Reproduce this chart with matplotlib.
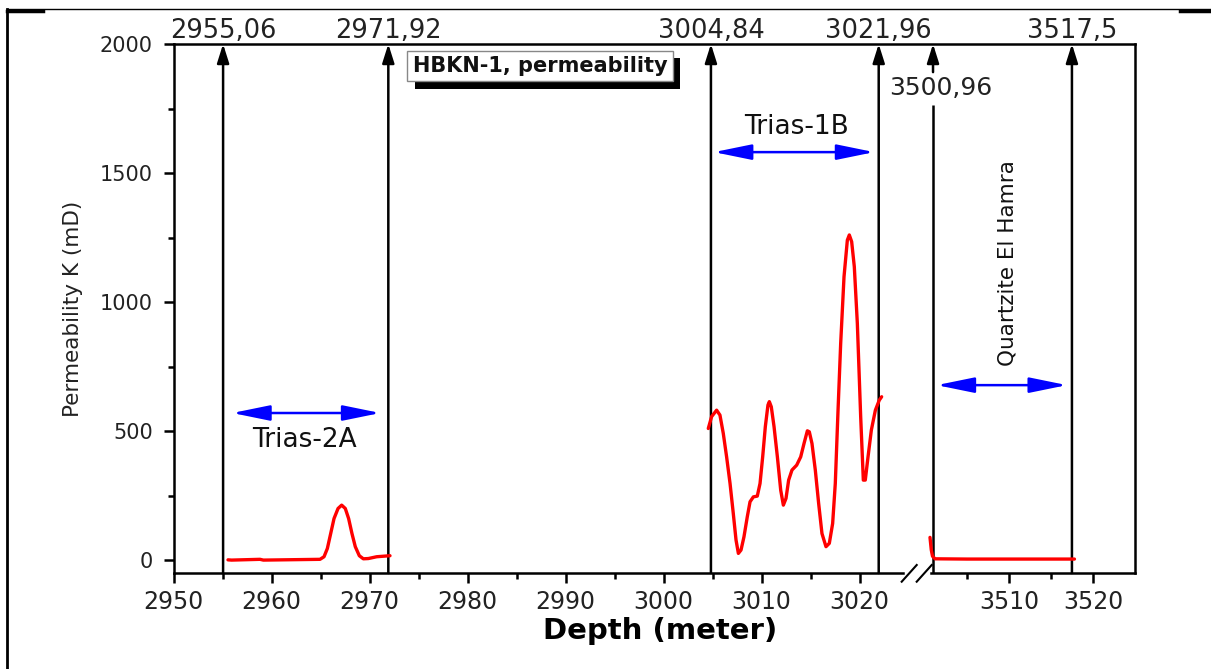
import numpy as np
import matplotlib
matplotlib.use("Agg")
import matplotlib.pyplot as plt
import matplotlib.patheffects as pe
from matplotlib.lines import Line2D

# ---------------- data ----------------
depth_2a = [2955.56, 2955.93, 2958.83, 2959.17, 2964.95, 2965.36, 2965.70, 2966.04,
            2966.38, 2966.79, 2967.16, 2967.53, 2967.87, 2968.21, 2968.55, 2968.96,
            2969.37, 2969.88, 2970.73, 2972.09]
perm_2a = [1, 0, 3, 0, 3, 13, 45, 103, 161, 200, 213, 200, 161, 103, 52, 17, 5, 6, 13, 17]

depth_1b = [3004.57, 3004.91, 3005.42, 3005.76, 3006.10, 3006.44, 3006.79, 3007.12,
            3007.40, 3007.64, 3007.91, 3008.21, 3008.55, 3008.83, 3009.17, 3009.57,
            3009.85, 3010.12, 3010.39, 3010.66, 3010.80, 3011.00, 3011.28, 3011.62,
            3011.96, 3012.23, 3012.50, 3012.77, 3013.11, 3013.59, 3014.00, 3014.34,
            3014.68, 3014.88, 3015.15, 3015.49, 3015.83, 3016.17, 3016.58, 3016.92,
            3017.26, 3017.53, 3017.81, 3018.08, 3018.42, 3018.76, 3018.96, 3019.20,
            3019.47, 3019.78, 3020.12, 3020.39, 3020.59, 3020.87, 3021.21, 3021.62,
            3022.02, 3022.26]
perm_1b = [510, 556, 581, 562, 491, 400, 297, 181,
           78, 26, 39, 90, 168, 226, 245, 248,
           297, 400, 517, 601, 614, 594, 517, 400,
           271, 213, 239, 310, 349, 368, 400, 452,
           501, 497, 452, 349, 220, 103, 52, 65,
           142, 297, 581, 840, 1098, 1240, 1260, 1234,
           1137, 917, 556, 310, 310, 400, 504, 581,
           620, 633]

depth_qh = [3500.6, 3500.75, 3500.9, 3501.2, 3505.0, 3510.0, 3517.8]
perm_qh = [88, 40, 15, 5, 4, 4, 4]

marker_depths = [2955.06, 2971.92, 3004.84, 3021.96, 3517.5]
marker_labels = ["2955,06", "2971,92", "3004,84", "3021,96", "3517,5"]
inner_marker_depth = 3500.96
inner_marker_label = "3500,96"

formation_names = ["Trias-2A", "Trias-1B", "Quartzite El Hamra"]
formation_spans = [(2956.0, 2971.1), (3005.15, 3021.5), (3501.4, 3516.9)]
formation_arrow_y = [570, 1581, 678]

x_major = [2950, 2960, 2970, 2980, 2990, 3000, 3010, 3020, 3510, 3520]
x_minor = [2955, 2965, 2975, 2985, 2995, 3005, 3015, 3505, 3515]
y_major = [0, 500, 1000, 1500, 2000]
y_minor = [250, 750, 1250, 1750]

# broken-axis scale (depth -> screen position)
brk_depth = [2950.0, 3024.5, 3500.6, 3524.95]
brk_pos = [0.0, 730.1, 756.5, 961.0]

def fwd(d):
    return np.interp(d, brk_depth, brk_pos)

def inv(v):
    return np.interp(v, brk_pos, brk_depth)

# ---------------- figure ----------------
W, H = 1211, 669
fig = plt.figure(figsize=(W / 100, H / 100), dpi=100)
plt.rcParams['font.family'] = ['DejaVu Sans']

ax_l, ax_r, ax_t, ax_b = 173.5, 1134.5, 44, 573
ax = fig.add_axes([ax_l / W, 1 - ax_b / H, (ax_r - ax_l) / W, (ax_b - ax_t) / H])
ax.set_xscale('function', functions=(fwd, inv))
ax.set_xlim(2950, 3524.95)
ax.set_ylim(-50, 2000)

SPW = 1.8
for s in ['left', 'right', 'top']:
    ax.spines[s].set_linewidth(SPW)
ax.spines['bottom'].set_visible(False)
# bottom spine with break
gx0 = (903 - ax_l) / (ax_r - ax_l)
gx1 = (931 - ax_l) / (ax_r - ax_l)
for a, b in [(0, gx0), (gx1, 1)]:
    ax.add_line(Line2D([a, b], [0, 0], transform=ax.transAxes, color='k',
                       lw=SPW, clip_on=False, solid_capstyle='projecting'))
def axfrac(px, py):
    return (px - ax_l) / (ax_r - ax_l), (ax_b - py) / (ax_b - ax_t)
for (p0, p1) in [((901.7, 581.7), (916.7, 565)), ((916.7, 581.7), (931.7, 565))]:
    a0 = axfrac(*p0); a1 = axfrac(*p1)
    ax.add_line(Line2D([a0[0], a1[0]], [a0[1], a1[1]], transform=ax.transAxes,
                       color='k', lw=1.5, clip_on=False))

ax.set_xticks(x_major)
ax.set_xticklabels([str(v) for v in x_major])
ax.set_xticks(x_minor, minor=True)
ax.set_yticks(y_major)
ax.set_yticklabels([str(v) for v in y_major])
ax.set_yticks(y_minor, minor=True)
ax.tick_params(axis='both', which='major', direction='out', length=7, width=SPW)
ax.tick_params(axis='both', which='minor', direction='out', length=4, width=SPW)
ax.tick_params(axis='x', which='major', labelsize=17, pad=5, labelcolor='#222222')
ax.tick_params(axis='y', which='major', labelsize=15, pad=8, labelcolor='#222222')
ax.tick_params(top=False, right=False, which='both')

ax.set_ylabel("Permeability K (mD)", fontsize=15.5, color='#222222')
ax.yaxis.set_label_coords((83 - ax_l) / (ax_r - ax_l), 0.5)
ax.set_xlabel("Depth (meter)", fontsize=21, fontweight='bold')
ax.xaxis.set_label_coords((660 - ax_l) / (ax_r - ax_l), (ax_b - 617) / (ax_b - ax_t))

# red permeability curves
for d, p in [(depth_2a, perm_2a), (depth_1b, perm_1b), (depth_qh, perm_qh)]:
    ax.plot(d, p, color='#ff0000', lw=2.4, solid_joinstyle='round',
            solid_capstyle='round', zorder=4)

# vertical marker arrows
arrow_style = '-|>,head_length=0.95,head_width=0.3'
for x, lab in zip(marker_depths, marker_labels):
    ax.annotate('', xy=(x, 2000), xytext=(x, -50),
                arrowprops=dict(arrowstyle=arrow_style, mutation_scale=12, color='k',
                                lw=1.8, shrinkA=0, shrinkB=0), annotation_clip=False)
    ax.annotate(lab, xy=(x, 2000), xytext=(0, 4), textcoords='offset points',
                ha='center', va='baseline', fontsize=18.5, color='#222222',
                annotation_clip=False)
# inner marker (broken for its label)
ax.plot([inner_marker_depth, inner_marker_depth], [-50, 1764], color='k', lw=1.8,
        solid_capstyle='butt', clip_on=False)
ax.annotate('', xy=(inner_marker_depth, 2000), xytext=(inner_marker_depth, 1891),
            arrowprops=dict(arrowstyle=arrow_style, mutation_scale=12, color='k',
                            lw=1.8, shrinkA=0, shrinkB=0), annotation_clip=False)
ax.text(3501.9, 1829, inner_marker_label, ha='center', va='center', fontsize=18,
        color='#222222')

# formation double arrows and names
for (x1, x2), y in zip(formation_spans, formation_arrow_y):
    ax.annotate('', xy=(x2, y), xytext=(x1, y),
                arrowprops=dict(arrowstyle='<|-|>,head_length=2.3,head_width=0.47',
                                mutation_scale=10, color='#0000ff', lw=1.8,
                                shrinkA=0, shrinkB=0))
ax.text(2963.4, 465, formation_names[0], ha='center', va='center', fontsize=19, color='#111111')
ax.text(3013.6, 1678, formation_names[1], ha='center', va='center', fontsize=19, color='#111111')
ax.text(3509.8, 1151, formation_names[2], ha='center', va='center', fontsize=15.5,
        rotation=90, color='#111111')

# title box with shadow
t = ax.text(2987.4, 1915, "HBKN-1, permeability", ha='center', va='center',
            fontsize=15, fontweight='bold', color='#111111', zorder=6,
            bbox=dict(boxstyle='square,pad=0.25', fc='white', ec='#888888', lw=1))
t.get_bbox_patch().set_path_effects([
    pe.SimplePatchShadow(offset=(5.5, -5.5), shadow_rgbFace='k', alpha=1.0),
    pe.Normal()])

# page/table border lines
ty = 1 - 9 / H
fig.add_artist(Line2D([7 / W, 1], [ty, ty], color='k', lw=1.0))
fig.add_artist(Line2D([7 / W, 43 / W], [1 - 10.5 / H] * 2, color='k', lw=2.5))
fig.add_artist(Line2D([1180 / W, 1], [1 - 10.5 / H] * 2, color='k', lw=2.5))
fig.add_artist(Line2D([7 / W, 7 / W], [0, ty], color='k', lw=2.0))

fig.savefig("out.png", dpi=100)
